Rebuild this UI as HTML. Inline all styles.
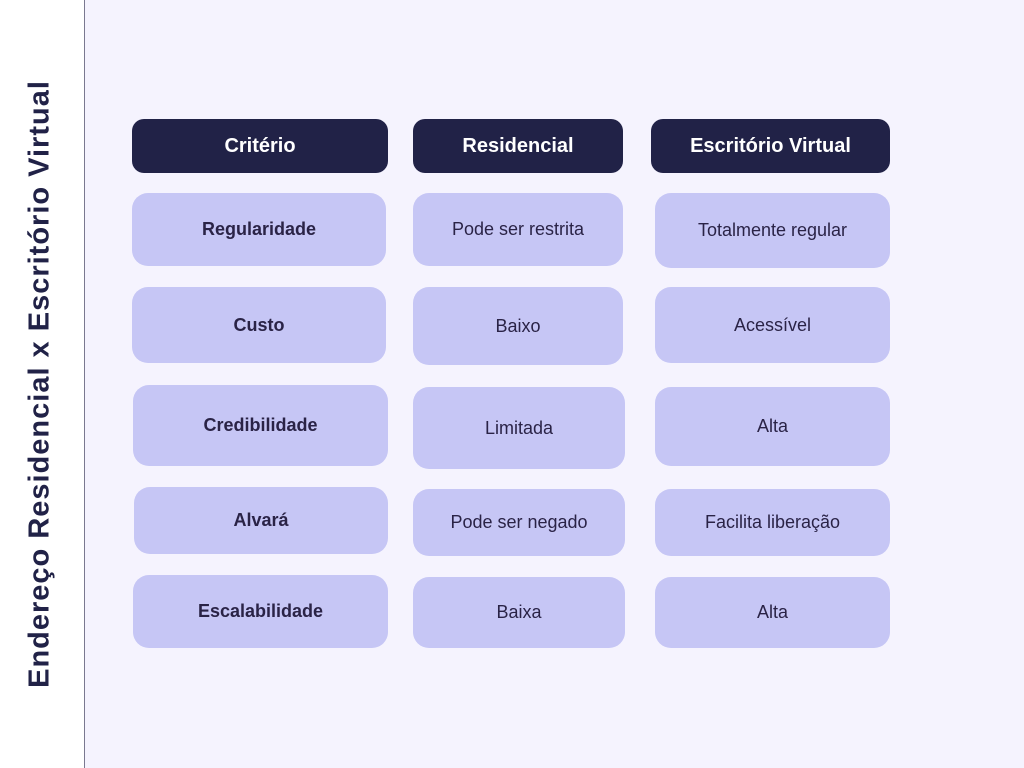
<!DOCTYPE html>
<html><head><meta charset="utf-8"><style>
body{margin:0;width:1024px;height:768px;background:#f5f3fe;position:relative;overflow:hidden;font-family:"Liberation Sans",sans-serif}
.side{position:absolute;left:0;top:0;width:84px;height:768px;background:#fff;border-right:1.5px solid #7a7890}
.title{position:absolute;left:40px;top:384px;transform:translate(-50%,-50%) rotate(-90deg);white-space:nowrap;font-weight:bold;font-size:29px;color:#212247;letter-spacing:1px}
.b{position:absolute;display:flex;align-items:center;justify-content:center;border-radius:16px;background:#c6c6f5;color:#2a2346;font-size:18px}
.h{background:#212247;color:#fff;font-weight:bold;font-size:20px;border-radius:12px}
.k{font-weight:bold}
</style></head><body>
<div class="side"><div class="title">Endereço Residencial x Escritório Virtual</div></div>
<div class="b h" style="left:132px;top:119px;width:256px;height:54px">Critério</div>
<div class="b h" style="left:413px;top:119px;width:210px;height:54px">Residencial</div>
<div class="b h" style="left:651px;top:119px;width:239px;height:54px">Escritório Virtual</div>

<div class="b k" style="left:132px;top:193px;width:254px;height:73px">Regularidade</div>
<div class="b" style="left:413px;top:193px;width:210px;height:73px">Pode ser restrita</div>
<div class="b" style="left:655px;top:193px;width:235px;height:75px">Totalmente regular</div>

<div class="b k" style="left:132px;top:287px;width:254px;height:76px">Custo</div>
<div class="b" style="left:413px;top:287px;width:210px;height:78px">Baixo</div>
<div class="b" style="left:655px;top:287px;width:235px;height:76px">Acessível</div>

<div class="b k" style="left:133px;top:385px;width:255px;height:81px">Credibilidade</div>
<div class="b" style="left:413px;top:387px;width:212px;height:82px">Limitada</div>
<div class="b" style="left:655px;top:387px;width:235px;height:79px">Alta</div>

<div class="b k" style="left:134px;top:487px;width:254px;height:67px">Alvará</div>
<div class="b" style="left:413px;top:489px;width:212px;height:67px">Pode ser negado</div>
<div class="b" style="left:655px;top:489px;width:235px;height:67px">Facilita liberação</div>

<div class="b k" style="left:133px;top:575px;width:255px;height:73px">Escalabilidade</div>
<div class="b" style="left:413px;top:577px;width:212px;height:71px">Baixa</div>
<div class="b" style="left:655px;top:577px;width:235px;height:71px">Alta</div>
</body></html>
